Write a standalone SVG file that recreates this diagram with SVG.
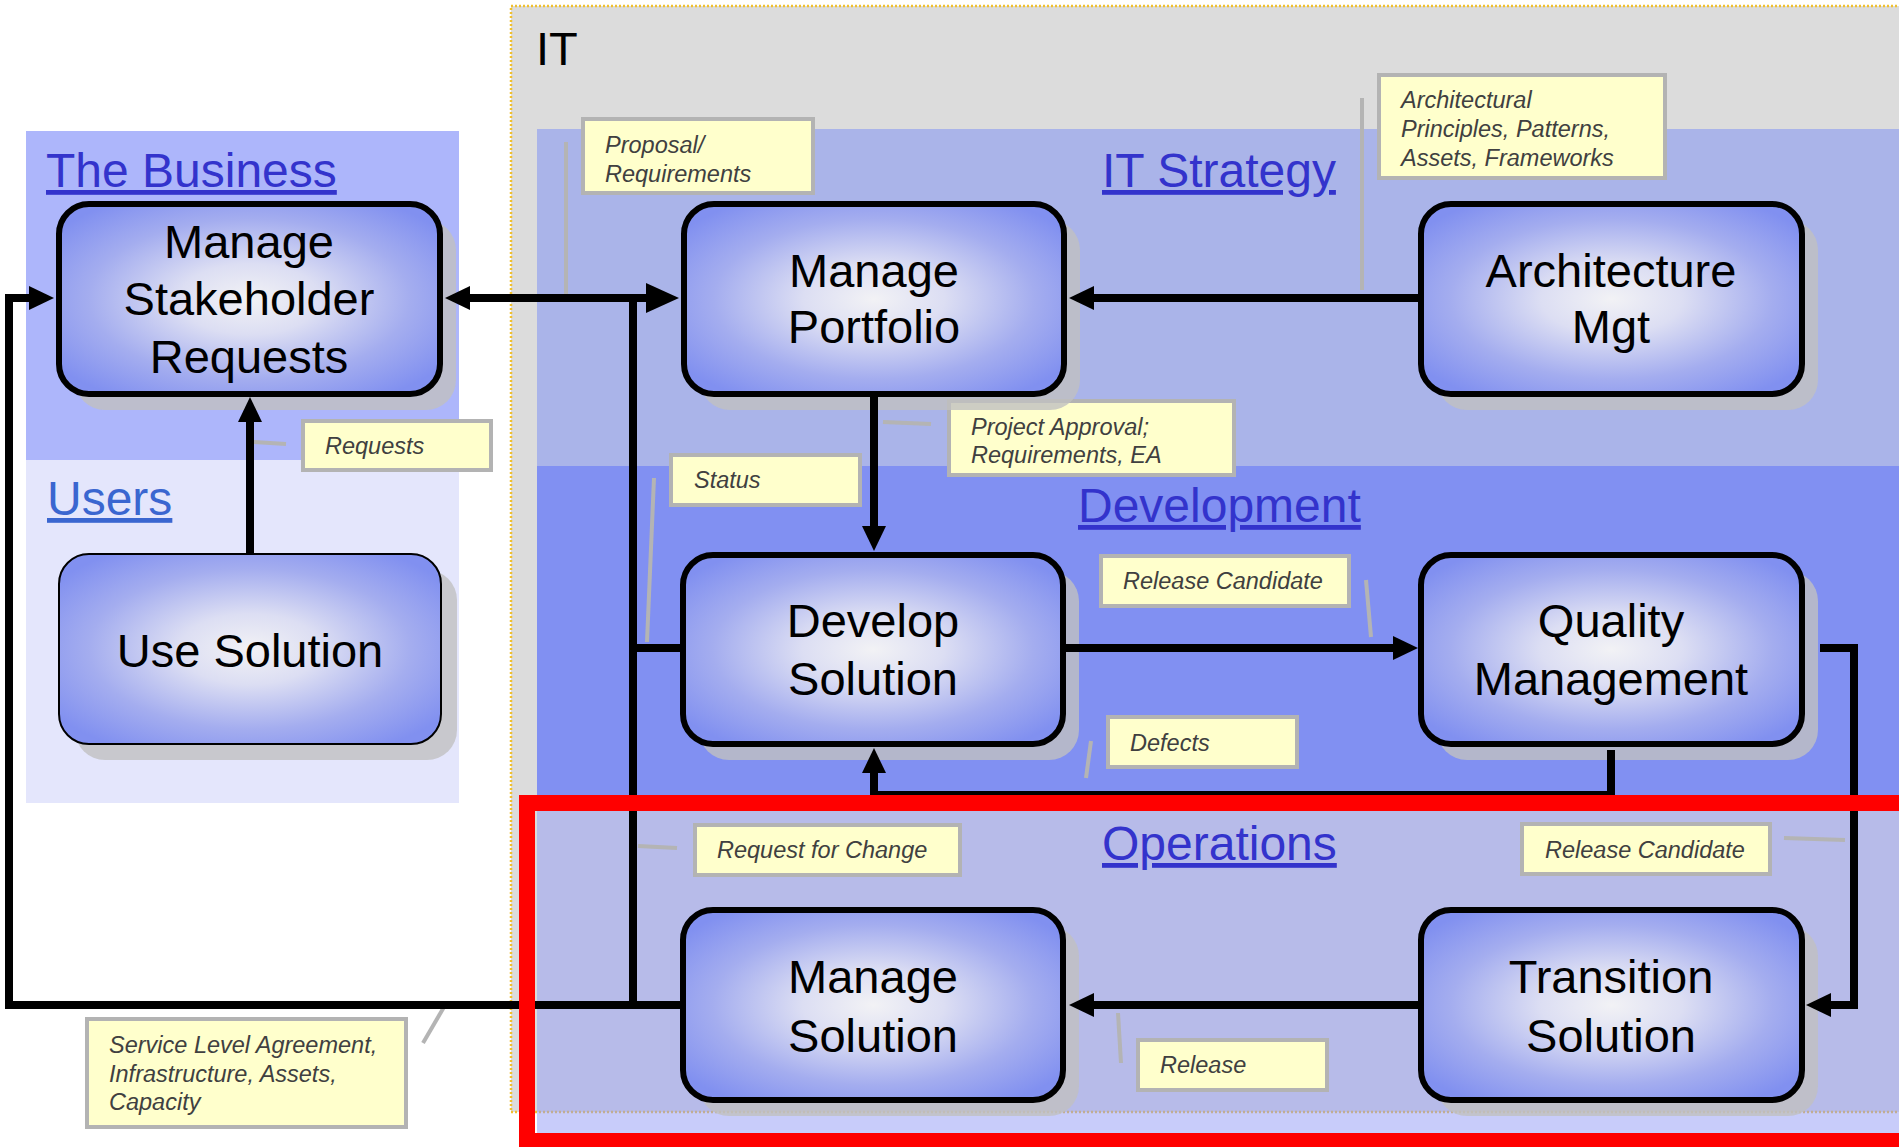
<svg xmlns="http://www.w3.org/2000/svg" width="1899" height="1147" viewBox="0 0 1899 1147">
<defs>
<style>
.shadow{fill:#c0c0c0;opacity:.8}
.box{fill:url(#nodeFill);stroke:#000;stroke-width:6}
.box.thin{stroke-width:2}
.ntext{font-family:"Liberation Sans",Arial,sans-serif;font-size:47px;fill:#000;text-anchor:middle}
.hdr{font-family:"Liberation Sans",Arial,sans-serif;font-size:48px;fill:#3333cc;text-decoration:underline}
.callout rect{fill:#ffffcc;stroke:#b3b3b3;stroke-width:4}
.callout text{font-family:"Liberation Sans",Arial,sans-serif;font-style:italic;font-size:23.5px;fill:#404040}
.leader{stroke:#b4b4b4;stroke-width:4;fill:none}
.conn{stroke:#000;stroke-width:8;fill:none;stroke-linejoin:miter}
</style>
<radialGradient id="nodeFill" cx="50%" cy="50%" r="62%">
<stop offset="0" stop-color="#f2f2f5"/>
<stop offset="0.3" stop-color="#dcdef3"/>
<stop offset="0.68" stop-color="#a4adef"/>
<stop offset="1" stop-color="#8190f0"/>
</radialGradient>
<marker id="arr" markerUnits="userSpaceOnUse" markerWidth="25" markerHeight="24" viewBox="0 0 25 24" refX="1" refY="12" orient="auto-start-reverse">
<path d="M0,0 L25,12 L0,24 z" fill="#000"/>
</marker>
<marker id="arrBig" markerUnits="userSpaceOnUse" markerWidth="33" markerHeight="30" viewBox="0 0 33 30" refX="1" refY="15" orient="auto">
<path d="M0,0 L33,15 L0,30 z" fill="#000"/>
</marker>
</defs>

<rect width="1899" height="1147" fill="#ffffff"/>

<g id="regions">
<rect id="it-container" x="511" y="6" width="1420" height="1106" fill="#dcdcdc" stroke="#f0c030" stroke-width="2.5" stroke-dasharray="2 2"/>
<rect id="band-it-strategy" x="537" y="129" width="1362" height="337" fill="#aab4e9"/>
<rect id="band-development" x="537" y="466" width="1362" height="337" fill="#8190f2"/>
<rect id="band-operations" x="537" y="803" width="1362" height="344" fill="#9199f5" opacity="0.5"/>
<rect id="region-business" x="26" y="131" width="433" height="329" fill="#adb6fb"/>
<rect id="region-users" x="26" y="460" width="433" height="343" fill="#e4e6fc"/>
<text x="536" y="65" font-family="Liberation Sans, Arial, sans-serif" font-size="47" fill="#000">IT</text>
<text class="hdr" x="46" y="187">The Business</text>
<text class="hdr" x="47" y="515" style="fill:#3a66d0">Users</text>
<text class="hdr" x="1102" y="187">IT Strategy</text>
<text class="hdr" x="1078" y="522">Development</text>
<text class="hdr" x="1102" y="860">Operations</text>
</g>

<g id="leaders">
<line class="leader" x1="566" y1="142" x2="566" y2="295"/>
<line class="leader" x1="1362" y1="98" x2="1362" y2="290"/>
<line class="leader" x1="254" y1="442" x2="286" y2="444"/>
<line class="leader" x1="883" y1="422" x2="931" y2="424"/>
<line class="leader" x1="654" y1="478" x2="647" y2="642"/>
<line class="leader" x1="1366" y1="580" x2="1371" y2="637"/>
<line class="leader" x1="1091" y1="741" x2="1086" y2="778"/>
<line class="leader" x1="638" y1="846" x2="677" y2="848"/>
<line class="leader" x1="1784" y1="838" x2="1845" y2="840"/>
<line class="leader" x1="1118" y1="1013" x2="1121" y2="1063"/>
<line class="leader" x1="444" y1="1007" x2="423" y2="1043"/>
</g>

<g id="callouts">
<g class="callout" id="lbl-proposal"><rect x="583" y="119" width="230" height="74"/><text x="605" y="153">Proposal/</text><text x="605" y="182">Requirements</text></g>
<g class="callout" id="lbl-architectural"><rect x="1379" y="75" width="286" height="103"/><text x="1401" y="108">Architectural</text><text x="1401" y="137">Principles, Patterns,</text><text x="1401" y="166">Assets, Frameworks</text></g>
<g class="callout" id="lbl-requests"><rect x="303" y="421" width="188" height="49"/><text x="325" y="454">Requests</text></g>
<g class="callout" id="lbl-project-approval"><rect x="949" y="401" width="285" height="74"/><text x="971" y="435">Project Approval;</text><text x="971" y="463">Requirements, EA</text></g>
<g class="callout" id="lbl-status"><rect x="671" y="455" width="189" height="50"/><text x="694" y="488">Status</text></g>
<g class="callout" id="lbl-release-candidate-dev"><rect x="1101" y="556" width="248" height="50"/><text x="1123" y="589">Release Candidate</text></g>
<g class="callout" id="lbl-defects"><rect x="1108" y="717" width="189" height="50"/><text x="1130" y="751">Defects</text></g>
<g class="callout" id="lbl-rfc"><rect x="695" y="825" width="265" height="50"/><text x="717" y="858">Request for Change</text></g>
<g class="callout" id="lbl-release-candidate-ops"><rect x="1522" y="824" width="248" height="50"/><text x="1545" y="858">Release Candidate</text></g>
<g class="callout" id="lbl-release"><rect x="1138" y="1040" width="189" height="50"/><text x="1160" y="1073">Release</text></g>
<g class="callout" id="lbl-sla"><rect x="87" y="1019" width="319" height="108"/><text x="109" y="1053">Service Level Agreement,</text><text x="109" y="1082">Infrastructure, Assets,</text><text x="109" y="1110">Capacity</text></g>
</g>

<g id="node-manage-stakeholder-requests">
<rect class="shadow" x="75" y="220" width="381" height="190" rx="30"/>
<rect class="box" x="59" y="204" width="381" height="190" rx="30"/>
<text class="ntext" x="249" y="258">Manage</text>
<text class="ntext" x="249" y="315">Stakeholder</text>
<text class="ntext" x="249" y="373">Requests</text>
</g>
<g id="node-use-solution">
<rect class="shadow" x="75" y="570" width="382" height="190" rx="30"/>
<rect class="box thin" x="59" y="554" width="382" height="190" rx="30"/>
<text class="ntext" x="250" y="667">Use Solution</text>
</g>
<g id="node-manage-portfolio">
<rect class="shadow" x="700" y="220" width="380" height="190" rx="30"/>
<rect class="box" x="684" y="204" width="380" height="190" rx="30"/>
<text class="ntext" x="874" y="287">Manage</text>
<text class="ntext" x="874" y="343">Portfolio</text>
</g>
<g id="node-architecture-mgt">
<rect class="shadow" x="1437" y="220" width="381" height="190" rx="30"/>
<rect class="box" x="1421" y="204" width="381" height="190" rx="30"/>
<text class="ntext" x="1611" y="287">Architecture</text>
<text class="ntext" x="1611" y="343">Mgt</text>
</g>
<g id="node-develop-solution">
<rect class="shadow" x="699" y="571" width="380" height="189" rx="30"/>
<rect class="box" x="683" y="555" width="380" height="189" rx="30"/>
<text class="ntext" x="873" y="637">Develop</text>
<text class="ntext" x="873" y="695">Solution</text>
</g>
<g id="node-quality-management">
<rect class="shadow" x="1437" y="571" width="381" height="189" rx="30"/>
<rect class="box" x="1421" y="555" width="381" height="189" rx="30"/>
<text class="ntext" x="1611" y="637">Quality</text>
<text class="ntext" x="1611" y="695">Management</text>
</g>
<g id="node-manage-solution">
<rect class="shadow" x="699" y="926" width="380" height="190" rx="30"/>
<rect class="box" x="683" y="910" width="380" height="190" rx="30"/>
<text class="ntext" x="873" y="993">Manage</text>
<text class="ntext" x="873" y="1052">Solution</text>
</g>
<g id="node-transition-solution">
<rect class="shadow" x="1437" y="926" width="381" height="190" rx="30"/>
<rect class="box" x="1421" y="910" width="381" height="190" rx="30"/>
<text class="ntext" x="1611" y="993">Transition</text>
<text class="ntext" x="1611" y="1052">Solution</text>
</g>

<g id="connectors">
<path class="conn" d="M469 298 H647" marker-start="url(#arr)" marker-end="url(#arrBig)"/>
<path class="conn" d="M633 294 V1005"/>
<path class="conn" d="M633 648 H680" stroke-width="10"/>
<path class="conn" d="M680 1005 H9 V298 H30" marker-end="url(#arr)"/>
<path class="conn" d="M1418 298 H1093" marker-end="url(#arr)"/>
<path class="conn" d="M874 397 V527" marker-end="url(#arr)"/>
<path class="conn" d="M250 553 V421" marker-end="url(#arr)"/>
<path class="conn" d="M1066 648 H1394" marker-end="url(#arr)"/>
<path class="conn" d="M1611 750 V795 H874 V772" marker-end="url(#arr)"/>
<path class="conn" d="M1820 648 H1854 V1005 H1830" marker-end="url(#arr)"/>
<path class="conn" d="M1418 1005 H1093" marker-end="url(#arr)"/>
</g>

<rect id="highlight" x="527" y="803" width="1400" height="338" fill="none" stroke="#ff0000" stroke-width="16"/>
</svg>
